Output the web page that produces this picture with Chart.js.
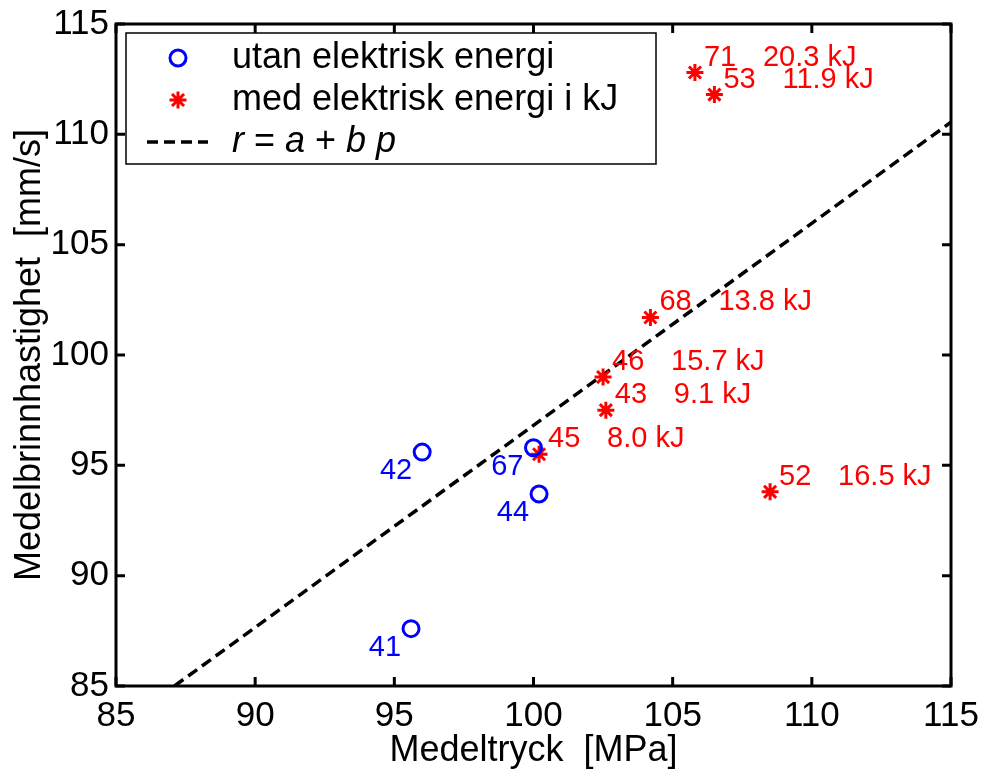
<!DOCTYPE html>
<html>
<head>
<meta charset="utf-8">
<script src="https://cdn.jsdelivr.net/npm/chart.js@4.4.1/dist/chart.umd.min.js"></script>
<style>
  html, body { margin: 0; padding: 0; background: #fff; }
  canvas { display: block; }
</style>
</head>
<body>
<canvas id="chart" width="983" height="773"></canvas>
<script>
// tests without electrical energy (blue circles)
const blueX = [95.6, 96.0, 100.0, 100.2];
const blueY = [87.6, 95.6, 95.8, 93.7];
const blueIds = ["41", "42", "67", "44"];

// tests with electrical energy (red stars)
const redX = [100.2, 102.5, 102.6, 104.2, 108.5, 105.8, 106.5];
const redY = [95.5, 99.0, 97.5, 101.7, 93.8, 112.8, 111.8];
const redIds = ["45", "46", "43", "68", "52", "71", "53"];
const redEnergy = ["8.0 kJ", "15.7 kJ", "9.1 kJ", "13.8 kJ", "16.5 kJ", "20.3 kJ", "11.9 kJ"];

// fitted line r = a + b p, end points
const fitX = [87.1, 115];
const fitY = [85, 110.55];

const xTicks = [85, 90, 95, 100, 105, 110, 115];
const yTicks = [85, 90, 95, 100, 105, 110, 115];

const FONT = "'Liberation Sans', Arial, sans-serif";
const BLUE = "#0000ff";
const RED = "#ff0000";

const toPoints = (xs, ys) => xs.map((x, i) => ({ x: x, y: ys[i] }));

function drawStar(ctx, cx, cy, r) {
  ctx.beginPath();
  ctx.moveTo(cx - r, cy); ctx.lineTo(cx + r, cy);
  ctx.moveTo(cx, cy - r); ctx.lineTo(cx, cy + r);
  const d = r * Math.SQRT1_2;
  ctx.moveTo(cx - d, cy - d); ctx.lineTo(cx + d, cy + d);
  ctx.moveTo(cx - d, cy + d); ctx.lineTo(cx + d, cy - d);
  ctx.stroke();
}

// box, inward ticks, point labels and the legend, matlab style
const frame = {
  id: "frame",
  afterDatasetsDraw(chart) {
    const { ctx, chartArea: a, scales } = chart;
    const sx = scales.x, sy = scales.y;
    ctx.save();

    ctx.strokeStyle = "#000";
    ctx.lineWidth = 3;
    ctx.setLineDash([]);
    ctx.beginPath();
    sx.ticks.forEach(t => {
      const px = sx.getPixelForValue(t.value);
      ctx.moveTo(px, a.bottom); ctx.lineTo(px, a.bottom - 9);
      ctx.moveTo(px, a.top); ctx.lineTo(px, a.top + 9);
    });
    sy.ticks.forEach(t => {
      const py = sy.getPixelForValue(t.value);
      ctx.moveTo(a.left, py); ctx.lineTo(a.left + 9, py);
      ctx.moveTo(a.right, py); ctx.lineTo(a.right - 9, py);
    });
    ctx.stroke();
    ctx.strokeRect(a.left, a.top, a.right - a.left, a.bottom - a.top);

    // point labels
    ctx.font = "29px " + FONT;
    ctx.textBaseline = "alphabetic";
    ctx.fillStyle = BLUE;
    ctx.textAlign = "right";
    blueIds.forEach((id, i) => {
      const px = sx.getPixelForValue(blueX[i]);
      const py = sy.getPixelForValue(blueY[i]);
      ctx.fillText(id, px - 10, py + 27);
    });
    ctx.fillStyle = RED;
    ctx.textAlign = "left";
    redIds.forEach((id, i) => {
      const px = sx.getPixelForValue(redX[i]);
      const py = sy.getPixelForValue(redY[i]);
      ctx.fillText(id, px + 9, py - 7);
      ctx.fillText(redEnergy[i], px + 68, py - 7);
    });

    // legend
    const lx = a.left + 10, ly = a.top + 9, lw = 530, lh = 131;
    ctx.fillStyle = "#fff";
    ctx.fillRect(lx, ly, lw, lh);
    ctx.lineWidth = 1.5;
    ctx.strokeStyle = "#000";
    ctx.strokeRect(lx, ly, lw, lh);

    const mx = lx + 52, tx = lx + 106;
    const rows = [ly + 25, ly + 67, ly + 109];

    ctx.lineWidth = 3;
    ctx.strokeStyle = BLUE;
    ctx.beginPath();
    ctx.arc(mx, rows[0], 8, 0, Math.PI * 2);
    ctx.stroke();

    ctx.strokeStyle = RED;
    drawStar(ctx, mx, rows[1], 8.5);

    ctx.strokeStyle = "#000";
    ctx.lineWidth = 3.5;
    ctx.setLineDash([11, 6]);
    ctx.beginPath();
    ctx.moveTo(lx + 21, rows[2]); ctx.lineTo(lx + 82, rows[2]);
    ctx.stroke();
    ctx.setLineDash([]);

    ctx.fillStyle = "#000";
    ctx.textAlign = "left";
    ctx.textBaseline = "middle";
    ctx.font = "36px " + FONT;
    ctx.fillText("utan elektrisk energi", tx, rows[0]);
    ctx.fillText("med elektrisk energi i kJ", tx, rows[1]);

    const parts = [["r", true], [" = ", false], ["a", true], [" + ", false], ["b p", true]];
    let cx = tx;
    parts.forEach(([s, it]) => {
      ctx.font = (it ? "italic " : "") + "36px " + FONT;
      ctx.fillText(s, cx, rows[2]);
      cx += ctx.measureText(s).width;
    });

    ctx.restore();
  }
};

new Chart(document.getElementById("chart"), {
  type: "scatter",
  data: {
    datasets: [
      {
        label: "utan elektrisk energi",
        data: toPoints(blueX, blueY),
        pointStyle: "circle",
        pointRadius: 8,
        pointBorderWidth: 3,
        borderColor: BLUE,
        backgroundColor: "rgba(0,0,0,0)",
      },
      {
        label: "med elektrisk energi i kJ",
        data: toPoints(redX, redY),
        pointStyle: "star",
        pointRadius: 8.5,
        pointBorderWidth: 3,
        borderColor: RED,
        backgroundColor: RED,
      },
      {
        type: "line",
        label: "r = a + b p",
        data: toPoints(fitX, fitY),
        showLine: true,
        borderColor: "#000",
        borderWidth: 3.5,
        borderDash: [11, 6],
        pointRadius: 0,
        fill: false,
      },
    ],
  },
  options: {
    responsive: false,
    animation: false,
    events: [],
    layout: { padding: { top: 24, right: 32, left: 0, bottom: 0 } },
    plugins: { legend: { display: false }, tooltip: { enabled: false } },
    scales: {
      x: {
        type: "linear",
        min: 85,
        max: 115,
        afterBuildTicks: s => { s.ticks = xTicks.map(v => ({ value: v })); },
        afterFit: s => { s.height = 87; s.paddingLeft = 0; s.paddingRight = 0; },
        grid: { display: false, drawTicks: false },
        border: { display: false },
        ticks: { color: "#000", padding: 9, font: { family: FONT, size: 35 } },
        title: {
          display: true,
          text: "Medeltryck  [MPa]",
          color: "#000",
          padding: { top: 0, bottom: 0 },
          font: { family: FONT, size: 36 },
        },
      },
      y: {
        type: "linear",
        min: 85,
        max: 115,
        afterBuildTicks: s => { s.ticks = yTicks.map(v => ({ value: v })); },
        afterFit: s => { s.width = 116; s.paddingTop = 0; s.paddingBottom = 0; },
        grid: { display: false, drawTicks: false },
        border: { display: false },
        ticks: { color: "#000", padding: 7, font: { family: FONT, size: 35 } },
        title: {
          display: true,
          text: "Medelbrinnhastighet  [mm/s]",
          color: "#000",
          padding: { top: 8, bottom: 0 },
          font: { family: FONT, size: 36 },
        },
      },
    },
  },
  plugins: [frame],
});
</script>
</body>
</html>
